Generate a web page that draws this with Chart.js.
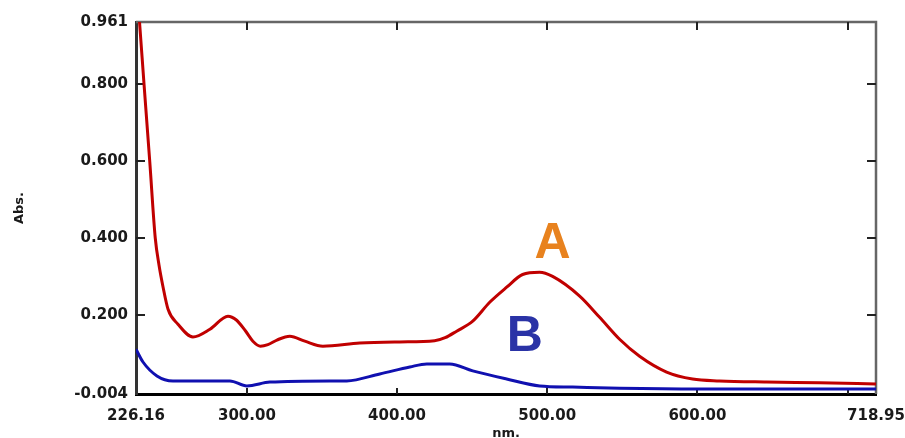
<!DOCTYPE html>
<html>
<head>
<meta charset="utf-8">
<script src="https://cdn.jsdelivr.net/npm/chart.js@4.4.0/dist/chart.umd.min.js"></script>
<style>
  body { margin: 0; background: #fff; }
  #wrap { width: 905px; height: 438px; }
</style>
</head>
<body>
<div id="wrap"><canvas id="spectrum" width="905" height="438"></canvas></div>
<script>
// Spectrum A (red)
const wavelengthsA = [226.16, 228.5, 231.5, 235.3, 239.0, 241.5, 244.1, 247.5, 254.1, 264.1, 275.4, 287.4, 293.0, 299.0, 304.0, 309.0, 314.0, 320.0, 328.6, 338.6, 350.6, 375.2, 401.8, 425.0, 432.0, 439.7, 450.4, 461.7, 473.0, 483.6, 494.9, 503.6, 521.6, 534.9, 548.2, 561.5, 579.5, 596.8, 614.7, 646.0, 681.3, 718.95];
const absorbanceA = [1.080, 0.961, 0.800, 0.600, 0.400, 0.330, 0.275, 0.216, 0.177, 0.144, 0.164, 0.198, 0.188, 0.160, 0.133, 0.120, 0.124, 0.136, 0.146, 0.133, 0.120, 0.128, 0.131, 0.134, 0.142, 0.159, 0.185, 0.234, 0.273, 0.306, 0.312, 0.301, 0.250, 0.195, 0.138, 0.094, 0.053, 0.035, 0.030, 0.027, 0.025, 0.022];

// Spectrum B (blue)
const wavelengthsB = [226.16, 230.8, 240.1, 250.8, 288.7, 300.0, 315.3, 355.2, 366.5, 388.5, 408.5, 419.8, 435.1, 450.4, 473.0, 495.0, 516.9, 548.2, 601.4, 718.95];
const absorbanceB = [0.112, 0.079, 0.043, 0.030, 0.030, 0.017, 0.027, 0.030, 0.030, 0.048, 0.066, 0.074, 0.074, 0.056, 0.035, 0.017, 0.014, 0.011, 0.009, 0.009];

// Axis ticks
const xTicks = [226.16, 300, 400, 500, 600, 700, 718.95];
const xLabelled = [226.16, 300, 400, 500, 600, 718.95];
const yTicks = [-0.004, 0.2, 0.4, 0.6, 0.8, 0.961];

const toPoints = (xs, ys) => xs.map((x, i) => ({ x: x, y: ys[i] }));

// Frame and inward tick marks on all four sides
const framePlugin = {
    id: 'frame',
    beforeDatasetsDraw(chart) {
        const { ctx, chartArea: a, scales } = chart;
        ctx.save();
        ctx.lineCap = 'butt';
        // top and right borders (grey)
        ctx.strokeStyle = '#666';
        ctx.lineWidth = 2.5;
        ctx.beginPath();
        ctx.moveTo(a.left, a.top);
        ctx.lineTo(a.right, a.top);
        ctx.lineTo(a.right, a.bottom);
        ctx.stroke();
        // tick marks
        ctx.strokeStyle = '#222';
        ctx.lineWidth = 2;
        ctx.beginPath();
        xTicks.forEach(v => {
            const px = Math.round(scales.x.getPixelForValue(v));
            if (px <= a.left + 2 || px >= a.right - 2) return;
            ctx.moveTo(px, a.bottom);
            ctx.lineTo(px, a.bottom - 6);
            ctx.moveTo(px, a.top);
            ctx.lineTo(px, a.top + 8);
        });
        yTicks.forEach(v => {
            const py = Math.round(scales.y.getPixelForValue(v));
            if (py <= a.top + 2 || py >= a.bottom - 2) return;
            ctx.moveTo(a.left, py);
            ctx.lineTo(a.left + 9, py);
            ctx.moveTo(a.right, py);
            ctx.lineTo(a.right - 9, py);
        });
        ctx.stroke();
        ctx.restore();
    },
    afterDatasetsDraw(chart) {
        // curve letters, anchored in data units
        const { ctx, scales } = chart;
        ctx.save();
        ctx.font = 'bold 50px "Liberation Sans", Arial, sans-serif';
        ctx.textAlign = 'center';
        ctx.textBaseline = 'alphabetic';
        ctx.fillStyle = '#e8821e';
        ctx.fillText('A', scales.x.getPixelForValue(503.6), scales.y.getPixelForValue(0.348));
        ctx.fillStyle = '#2a33a6';
        ctx.fillText('B', scales.x.getPixelForValue(485), scales.y.getPixelForValue(0.107));
        ctx.restore();
    }
};

const tickFont = { family: '"DejaVu Sans", sans-serif', size: 15, weight: 'bold' };

new Chart(document.getElementById('spectrum'), {
    type: 'line',
    data: {
        datasets: [
            {
                label: 'A',
                data: toPoints(wavelengthsA, absorbanceA),
                borderColor: '#c00000',
                borderWidth: 3,
                pointRadius: 0,
                cubicInterpolationMode: 'monotone'
            },
            {
                label: 'B',
                data: toPoints(wavelengthsB, absorbanceB),
                borderColor: '#1010b0',
                borderWidth: 3,
                pointRadius: 0,
                cubicInterpolationMode: 'monotone'
            }
        ]
    },
    options: {
        responsive: false,
        animation: false,
        layout: { padding: { top: 22, right: 29, left: 0, bottom: 0 } },
        plugins: {
            legend: { display: false },
            tooltip: { enabled: false }
        },
        scales: {
            x: {
                type: 'linear',
                min: 226.16,
                max: 718.95,
                grid: { display: false, drawTicks: false },
                border: { display: true, color: '#000', width: 3 },
                afterBuildTicks(scale) {
                    scale.ticks = xTicks.map(v => ({ value: v }));
                },
                afterFit(scale) {
                    scale.height = 44;
                    scale.paddingLeft = 0;
                    scale.paddingRight = 0;
                },
                ticks: {
                    autoSkip: false,
                    maxRotation: 0,
                    padding: 13,
                    color: '#1a1a1a',
                    font: tickFont,
                    callback: v => xLabelled.includes(v) ? v.toFixed(2) : ''
                },
                title: {
                    display: true,
                    text: 'nm.',
                    color: '#1a1a1a',
                    font: { family: '"DejaVu Sans", sans-serif', size: 13, weight: 'bold' },
                    padding: { top: 0, bottom: -3 }
                }
            },
            y: {
                min: -0.004,
                max: 0.961,
                grid: { display: false, drawTicks: false },
                border: { display: true, color: '#333', width: 3 },
                afterBuildTicks(scale) {
                    scale.ticks = yTicks.map(v => ({ value: v }));
                },
                afterFit(scale) {
                    scale.width = 136;
                    scale.paddingTop = 0;
                    scale.paddingBottom = 0;
                },
                ticks: {
                    autoSkip: false,
                    padding: 8,
                    color: '#1a1a1a',
                    font: tickFont,
                    callback: v => v.toFixed(3)
                },
                title: {
                    display: true,
                    text: 'Abs.',
                    color: '#1a1a1a',
                    font: { family: '"DejaVu Sans", sans-serif', size: 13, weight: 'bold' },
                    padding: { top: 12, bottom: 0 }
                }
            }
        }
    },
    plugins: [framePlugin]
});
</script>
</body>
</html>
